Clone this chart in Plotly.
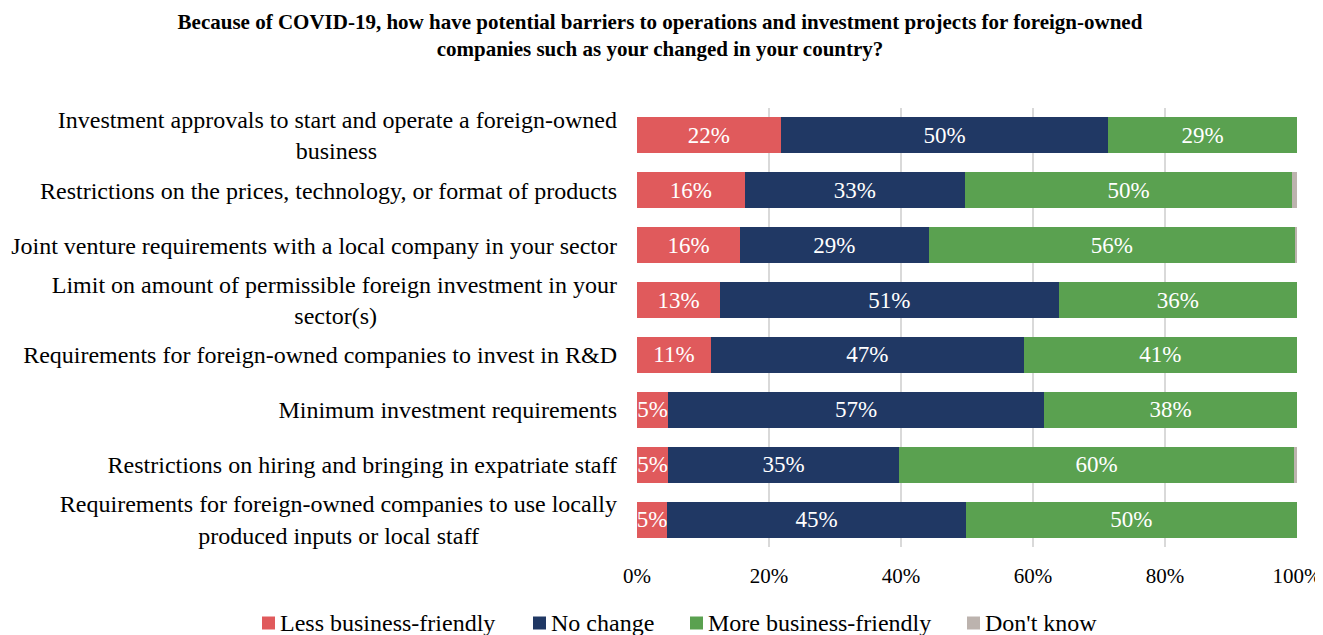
import plotly.graph_objects as go

NB = "\u00a0"

categories = [
    "Investment approvals to start and operate a foreign-owned<br>business" + NB * 40,
    "Restrictions on the prices, technology, or format of products",
    "Joint venture requirements with a local company in your sector",
    "Limit on amount of permissible foreign investment in your<br>sector(s)" + NB * 40,
    "Requirements for foreign-owned companies to invest in R&D",
    "Minimum investment requirements",
    "Restrictions on hiring and bringing in expatriate staff",
    "Requirements for foreign-owned companies to use locally<br>produced inputs or local staff" + NB * 23,
]

less_friendly = [21.8, 16.3, 15.6, 12.6, 11.2, 4.7, 4.7, 4.6]
no_change = [49.6, 33.4, 28.6, 51.3, 47.4, 57.0, 35.0, 45.2]
more_friendly = [28.6, 49.6, 55.5, 36.1, 41.4, 38.3, 59.9, 50.2]
dont_know = [0.0, 0.7, 0.3, 0.0, 0.0, 0.0, 0.4, 0.0]

tick_vals = [0, 20, 40, 60, 80, 100]
tick_text = ["0%", "20%", "40%", "60%", "80%", "100%"]

series_names = ["Less business-friendly", "No change", "More business-friendly", "Don't know"]
series_values = [less_friendly, no_change, more_friendly, dont_know]
series_colors = ["#E05A5C", "#203864", "#5AA150", "#BCB3AE"]
show_labels = [True, True, True, False]

font = "Liberation Serif, Times New Roman, serif"

# the page body adds an 8px offset, so the figure is a bit smaller than the window
OFF = 8
W, H = 1323 - OFF, 635 - OFF
L, R, T, B = 637 - OFF, 26, 108 - OFF, 88
PW, PH = W - L - R, H - T - B


def px_x(x):
    return (x - OFF - L) / PW


def px_y(y):
    return (H - B - (y - OFF)) / PH


fig = go.Figure()
for name, vals, color, lab in zip(series_names, series_values, series_colors, show_labels):
    fig.add_trace(go.Bar(
        y=categories,
        x=vals,
        name=name,
        orientation="h",
        marker_color=color,
        marker_line_width=0,
        text=[f"{v:.0f}%" for v in vals] if lab else None,
        textposition="inside" if lab else "none",
        insidetextanchor="middle",
        textangle=0,
        textfont=dict(color="white", size=23, family=font),
        showlegend=False,
    ))

# legend drawn as squares + text under the axis
legend_square_x = [262, 533, 690, 967]
legend_y = 623
for name, color, sx in zip(series_names, series_colors, legend_square_x):
    fig.add_shape(
        type="rect", xref="paper", yref="paper",
        x0=px_x(sx), x1=px_x(sx + 13),
        y0=px_y(legend_y + 6.5), y1=px_y(legend_y - 6.5),
        fillcolor=color, line_width=0,
    )
    fig.add_annotation(
        x=px_x(sx + 16), y=px_y(legend_y), xref="paper", yref="paper",
        text=name, showarrow=False, xanchor="left", yanchor="middle",
        font=dict(size=24, family=font, color="#000000"),
    )

fig.update_layout(
    barmode="stack",
    bargap=0.344,
    width=W,
    height=H,
    template="none",
    plot_bgcolor="white",
    paper_bgcolor="white",
    font=dict(family=font, size=24, color="#000000"),
    margin=dict(l=L, r=R, t=T, b=B, pad=0),
    uniformtext=dict(minsize=23, mode="show"),
    showlegend=False,
    title=dict(
        text="<b>Because of COVID-19, how have potential barriers to operations and investment projects for foreign-owned<br>companies such as your changed in your country?</b>",
        x=(660 - OFF) / W, xref="container", xanchor="center",
        y=0.967, yref="container", yanchor="top",
        font=dict(size=21, family=font, color="#000000"),
    ),
    xaxis=dict(
        range=[0, 100],
        tickvals=tick_vals,
        ticktext=tick_text,
        showgrid=True,
        gridcolor="#D9D9D9",
        gridwidth=1.5,
        zeroline=False,
        showline=False,
        ticks="",
        automargin=False,
        ticklabeloverflow="allow",
        ticklabelstandoff=14,
        tickfont=dict(size=21, family=font),
    ),
    yaxis=dict(
        autorange="reversed",
        showgrid=False,
        zeroline=False,
        showline=False,
        ticks="",
        automargin=False,
        ticklabelstandoff=19,
        tickfont=dict(size=24, family=font),
    ),
)

fig.write_html("out.html")
